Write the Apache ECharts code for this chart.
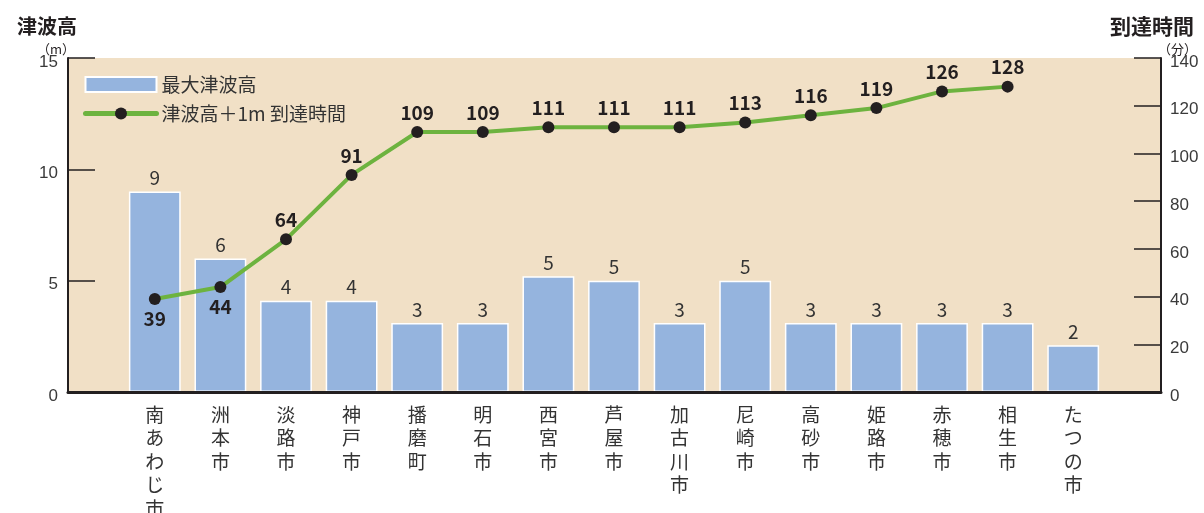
<!DOCTYPE html>
<html>
<head>
    <meta charset="UTF-8">
    <title>津波高と到達時間</title>
    <script src="https://cdn.jsdelivr.net/npm/echarts/dist/echarts.min.js"></script>
    <style>
        html, body { margin: 0; padding: 0; background: #ffffff; }
        #main { width: 1204px; height: 513px; }
    </style>
</head>
<body>
    <div id="main"></div>
    <script type="text/javascript">
        // 市町名
        var cities = ['南あわじ市', '洲本市', '淡路市', '神戸市', '播磨町', '明石市', '西宮市',
            '芦屋市', '加古川市', '尼崎市', '高砂市', '姫路市', '赤穂市', '相生市', 'たつの市'];
        // 最大津波高 (m)
        var waveHeight = [9.0, 6.0, 4.1, 4.1, 3.1, 3.1, 5.2, 5.0, 3.1, 5.0, 3.1, 3.1, 3.1, 3.1, 2.1];
        // 津波高+1m 到達時間 (分)
        var arrivalMin = [39, 44, 64, 91, 109, 109, 111, 111, 111, 113, 116, 119, 126, 128, null];

        var jp = '"Noto Sans CJK JP", "Noto Sans", sans-serif';
        var num = '"Liberation Sans", Arial, sans-serif';
        var ink = '#231f20';

        var chart = echarts.init(document.getElementById('main'));

        var lineData = arrivalMin.map(function (v, i) {
            if (i < 2) {
                return { value: v, label: { position: 'bottom' } };
            }
            return v;
        });

        var option = {
            animation: false,
            backgroundColor: '#ffffff',
            title: [
                { text: '津波高', left: 12, top: 11, textStyle: { fontFamily: jp, fontSize: 20, fontWeight: 'bold', color: ink } },
                { text: '（m）', left: 32, top: 38, textStyle: { fontFamily: jp, fontSize: 13, fontWeight: 'normal', color: ink } },
                { text: '到達時間', right: 5, top: 11, textStyle: { fontFamily: jp, fontSize: 21, fontWeight: 'bold', color: ink } },
                { text: '（分）', right: 2, top: 38, textStyle: { fontFamily: jp, fontSize: 13, fontWeight: 'normal', color: ink } }
            ],
            legend: {
                orient: 'vertical',
                left: 83,
                top: 75,
                padding: 0,
                itemWidth: 71,
                itemHeight: 15,
                itemGap: 10,
                textStyle: { fontFamily: jp, fontSize: 19, color: '#333333' },
                data: [
                    { name: '最大津波高', icon: 'rect' },
                    { name: '津波高＋1m 到達時間', lineStyle: { width: 5, cap: 'round' } }
                ]
            },
            grid: [
                { left: 68, right: 43, top: 58, bottom: 121, show: true, backgroundColor: '#f1e0c6', borderWidth: 0, outerBoundsMode: 'none' },
                { left: 122, right: 98, top: 58, bottom: 121, outerBoundsMode: 'none' }
            ],
            xAxis: [
                {
                    gridIndex: 0, type: 'value', min: 0, max: 1, z: 5,
                    axisLine: { show: true, lineStyle: { color: ink, width: 3 } },
                    axisTick: { show: false }, axisLabel: { show: false }, splitLine: { show: false }
                },
                {
                    gridIndex: 1, type: 'category', data: cities,
                    axisLine: { show: false }, axisTick: { show: false },
                    axisLabel: {
                        margin: 11, interval: 0, fontFamily: jp, fontSize: 19, lineHeight: 23.5,
                        color: '#333333', verticalAlign: 'top',
                        formatter: function (v) { return v.split('').join('\n'); }
                    }
                }
            ],
            yAxis: [
                {
                    gridIndex: 0, position: 'left', min: 0, max: 15, interval: 5,
                    axisLine: { show: true, lineStyle: { color: ink, width: 2 } },
                    axisTick: { show: true, inside: true, length: 27, lineStyle: { color: ink, width: 1.5 } },
                    axisLabel: { margin: 10, verticalAlign: 'top', lineHeight: 8, fontFamily: num, fontSize: 17, color: '#3a3a3a' },
                    splitLine: { show: false }
                },
                {
                    gridIndex: 0, position: 'right', min: 0, max: 140, interval: 20,
                    axisLine: { show: true, lineStyle: { color: ink, width: 2 } },
                    axisTick: { show: true, inside: true, length: 27, lineStyle: { color: ink, width: 1.5 } },
                    axisLabel: { margin: 9, verticalAlign: 'top', lineHeight: 8, fontFamily: num, fontSize: 17, color: '#3a3a3a' },
                    splitLine: { show: false }
                },
                { gridIndex: 1, min: 0, max: 15, show: false },
                { gridIndex: 1, min: 0, max: 140, show: false }
            ],
            series: [
                {
                    name: '最大津波高',
                    type: 'bar',
                    xAxisIndex: 1,
                    yAxisIndex: 2,
                    barCategoryGap: '21%',
                    data: waveHeight,
                    itemStyle: { color: '#95b4de', borderColor: '#ffffff', borderWidth: 1.5 },
                    label: {
                        show: true, position: 'top', distance: 4,
                        fontFamily: jp, fontSize: 19, color: '#333333',
                        formatter: function (p) { return Math.round(p.value); }
                    }
                },
                {
                    name: '津波高＋1m 到達時間',
                    type: 'line',
                    xAxisIndex: 1,
                    yAxisIndex: 3,
                    data: lineData,
                    symbol: 'circle',
                    symbolSize: 12,
                    z: 4,
                    lineStyle: { color: '#6db33f', width: 4 },
                    itemStyle: { color: ink },
                    label: {
                        show: true, position: 'top', distance: 4,
                        fontFamily: jp, fontSize: 19, fontWeight: 'bold', color: ink
                    }
                }
            ]
        };

        chart.setOption(option);
    </script>
</body>
</html>
